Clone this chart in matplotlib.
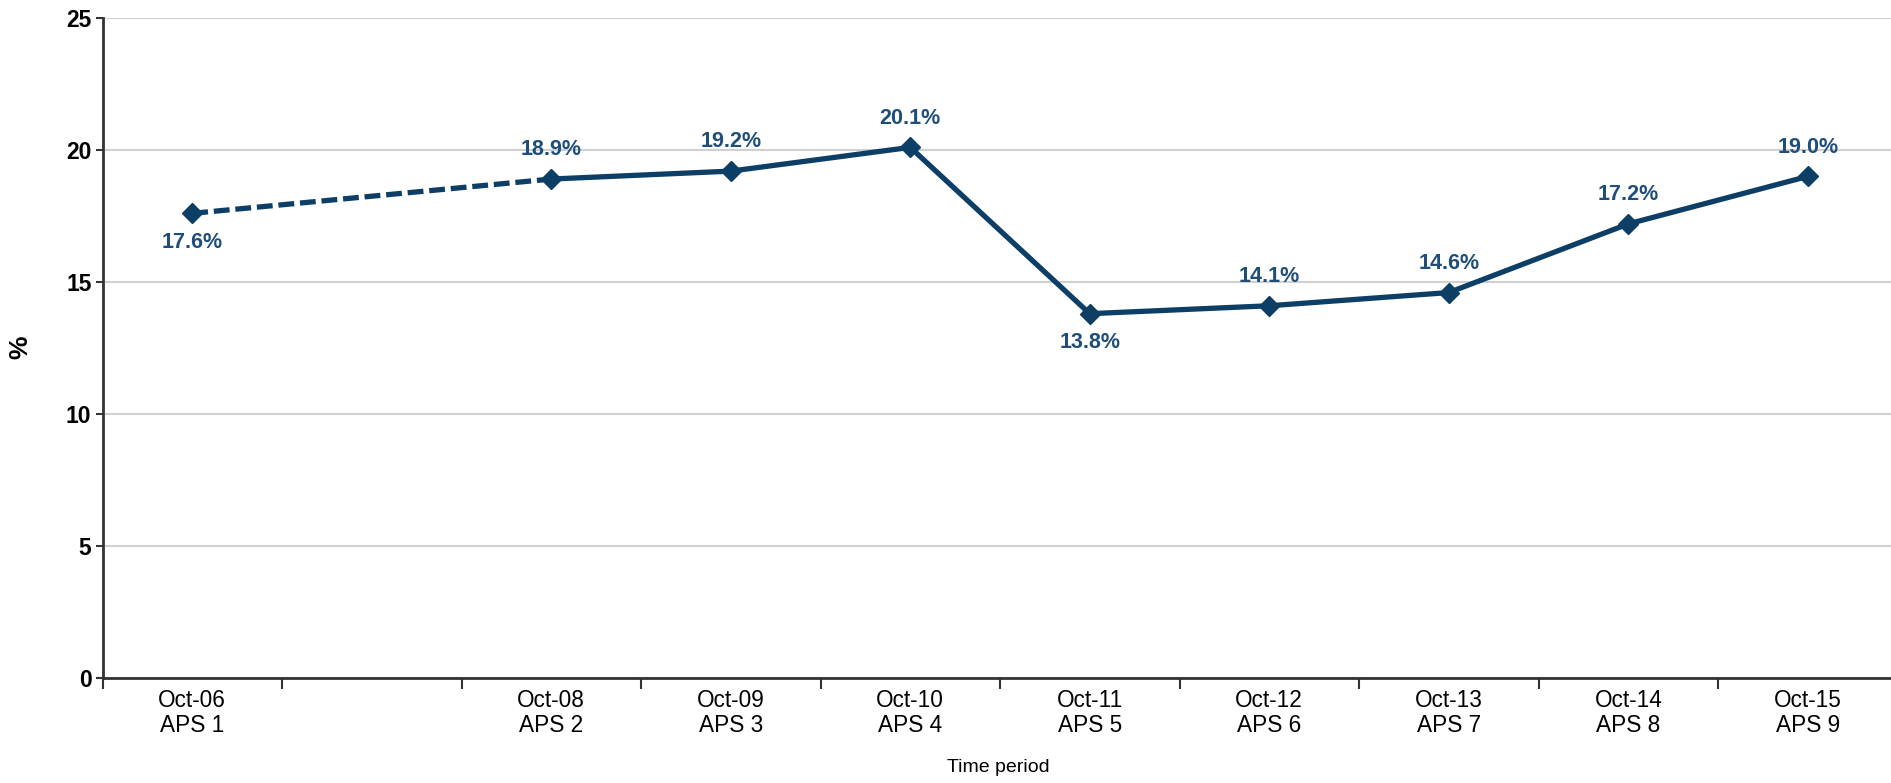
import matplotlib
matplotlib.use("Agg")
import matplotlib.pyplot as plt

plt.rcParams['font.family'] = ['Liberation Sans', 'DejaVu Sans']

categories = ["Oct-06\nAPS 1", "", "Oct-08\nAPS 2", "Oct-09\nAPS 3", "Oct-10\nAPS 4",
              "Oct-11\nAPS 5", "Oct-12\nAPS 6", "Oct-13\nAPS 7", "Oct-14\nAPS 8", "Oct-15\nAPS 9"]
values = [17.6, None, 18.9, 19.2, 20.1, 13.8, 14.1, 14.6, 17.2, 19.0]
label_below = [True, False, False, False, False, True, False, False, False, False]
y_ticks = [0, 5, 10, 15, 20, 25]

line_color = '#0d3f66'
label_color = '#1f4e7a'

fig = plt.figure(figsize=(18.91, 7.83), dpi=100)
ax = fig.add_axes([102.5 / 1891, 105 / 783, 1795 / 1891, 660 / 783])

xs = [i for i, v in enumerate(values) if v is not None]
ys = [values[i] for i in xs]

# dashed segment across the missing period
ax.plot(xs[:2], ys[:2], color=line_color, lw=3.8, dashes=(3, 1.1), zorder=3)
ax.plot(xs[1:], ys[1:], color=line_color, lw=3.8, zorder=3)
ax.plot(xs, ys, linestyle='none', marker='D', markersize=10.5,
        color=line_color, zorder=4)

for x, y in zip(xs, ys):
    off = -21 if label_below[x] else 21
    ax.annotate(f"{y:.1f}%", (x, y), xytext=(0, off), textcoords='offset points',
                ha='center', va='center', fontsize=15.5, fontweight='bold',
                color=label_color)

ax.set_xlim(-0.5, len(categories) - 0.5)
ax.set_ylim(0, 25)
ax.set_yticks(y_ticks)
ax.set_yticklabels([str(t) for t in y_ticks], fontsize=16.5, fontweight='bold')
ax.grid(axis='y', color='#d0d0d0', lw=1.5, zorder=0)
ax.set_axisbelow(True)

ax.set_xticks(range(len(categories)))
ax.set_xticklabels(categories, fontsize=16.3, linespacing=1.1)
ax.set_xticks([i + 0.5 for i in range(-1, len(categories))], minor=True)
ax.tick_params(axis='x', which='major', length=0, pad=8)
ax.tick_params(axis='x', which='minor', length=8, width=1.5, color='#333333', direction='out')
ax.tick_params(axis='y', length=5, width=1.5, color='#333333', pad=3)

for s in ['top', 'right']:
    ax.spines[s].set_visible(False)
for s in ['left', 'bottom']:
    ax.spines[s].set_color('#333333')
    ax.spines[s].set_linewidth(2)

fig.text(998 / 1891, 1 - 768 / 783, "Time period", ha='center', va='center', fontsize=14)
fig.text(20 / 1891, 1 - 347 / 783, "%", ha='center', va='center', fontsize=19,
         fontweight='bold', rotation=90)

fig.savefig("out.png", dpi=100)
